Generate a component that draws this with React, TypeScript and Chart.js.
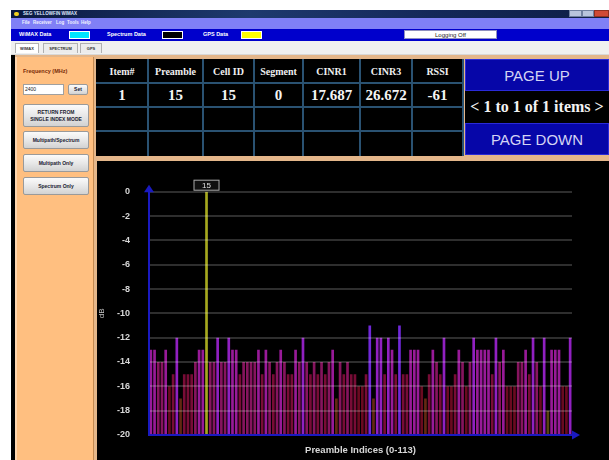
import React, { useEffect, useRef } from 'react';
import { Chart, registerables } from 'chart.js';

Chart.register(...registerables);

// ---------- data ----------
const PREAMBLE_INDICES: string[] = Array.from({ length: 114 }, (_, i) => String(i));
const LEVEL_DB: number[] = [
  -13, -13, -14, -14, -13, -16, -15, -12, -17, -15,
  -15, -15, -14, -13, -13, 0, -14, -14, -12, -14,
  -14, -12, -13, -13, -15, -14, -14, -14, -14, -13,
  -15, -13, -14, -15, -14, -13, -14, -15, -15, -13,
  -14, -12, -14, -15, -14, -15, -14, -15, -14, -13,
  -17, -14, -15, -14, -15, -15, -16, -16, -15, -11,
  -17, -12, -12, -15, -12, -13, -15, -11, -15, -15,
  -13, -13, -13, -16, -17, -15, -13, -14, -15, -12,
  -16, -16, -15, -13, -14, -16, -14, -12, -13, -13,
  -13, -13, -15, -12, -14, -13, -16, -16, -16, -14,
  -14, -13, -15, -12, -14, -16, -12, -18, -13, -13,
  -13, -16, -16, -12,
];
const SELECTED_INDEX = 15;
const Y_MIN = -20;
const Y_MAX = 0;
const Y_STEP = 2;
const X_TITLE = 'Preamble Indices (0-113)';
const Y_TITLE = 'dB';

const TABLE_HEADERS = ['Item#', 'Preamble', 'Cell ID', 'Segment', 'CINR1', 'CINR3', 'RSSI'];
const TABLE_ROW = ['1', '15', '15', '0', '17.687', '26.672', '-61'];
const MENU_ITEMS = ['File', 'Receiver', 'Log', 'Tools', 'Help'];
const TABS = ['WIMAX', 'SPECTRUM', 'GPS'];
const PAGER_TEXT = '< 1 to 1 of 1 items >';

// ---------- styles ----------
const SANS = '"Liberation Sans", Arial, sans-serif';
const SERIF = '"Liberation Serif", "Times New Roman", serif';
const AXIS_BLUE = '#1a1ac0';
const SELECTED_COLOR = '#a6a81e';

const LEVEL_COLORS: Record<string, string> = {
  '-11': '#7028d8',
  '-12': '#9020c0',
  '-13': '#981a98',
  '-14': '#86145e',
  '-15': '#780c36',
  '-16': '#6a0a20',
  '-17': '#642812',
  '-18': '#584410',
};

const abs = (l: number, t: number, w: number, h: number, extra: React.CSSProperties = {}): React.CSSProperties => ({
  position: 'absolute', left: l, top: t, width: w, height: h, boxSizing: 'border-box', ...extra,
});

const Btn = ({ l, t, w, h, lines, size = 5 }: { l: number; t: number; w: number; h: number; lines: string[]; size?: number }) => (
  <div
    style={abs(l, t, w, h, {
      background: 'linear-gradient(#fbfbfb, #e6e6e6 55%, #d2d2d2)',
      border: '1px solid #9a9a9a',
      borderRadius: 2,
      display: 'flex',
      flexDirection: 'column',
      alignItems: 'center',
      justifyContent: 'center',
      font: `bold ${size}px ${SANS}`,
      color: '#202030',
      lineHeight: `${size + 1.5}px`,
      whiteSpace: 'nowrap',
    })}
  >
    {lines.map((s, i) => (
      <div key={i}>{s}</div>
    ))}
  </div>
);

const TextAt = ({ l, t, text, size, color, weight = 'bold', family = SANS }: any) => (
  <div style={{ position: 'absolute', left: l, top: t, font: `${weight} ${size}px ${family}`, color, whiteSpace: 'nowrap', lineHeight: 1 }}>{text}</div>
);

const chartDecor = {
  id: 'chartDecor',
  afterDraw(chart: any) {
    const { ctx, chartArea } = chart;
    const { left, right, top, bottom } = chartArea;
    ctx.save();
    ctx.fillStyle = AXIS_BLUE;
    // y arrow
    ctx.beginPath();
    ctx.moveTo(left - 5, top + 0.5);
    ctx.lineTo(left + 5, top + 0.5);
    ctx.lineTo(left, top - 7);
    ctx.closePath();
    ctx.fill();
    // x arrow
    ctx.beginPath();
    ctx.moveTo(right, bottom - 4.5);
    ctx.lineTo(right, bottom + 4.5);
    ctx.lineTo(right + 8, bottom);
    ctx.closePath();
    ctx.fill();
    // selected label box
    const meta = chart.getDatasetMeta(0);
    const el = meta.data[SELECTED_INDEX];
    if (el) {
      const text = PREAMBLE_INDICES[SELECTED_INDEX];
      const bx = el.x - 13;
      const by = el.y - 12;
      ctx.fillStyle = '#101010';
      ctx.fillRect(bx, by, 26, 11);
      ctx.strokeStyle = '#a8a8a8';
      ctx.lineWidth = 1;
      ctx.strokeRect(bx + 0.5, by + 0.5, 25, 10);
      ctx.fillStyle = '#e0e0e0';
      ctx.font = `8px ${SANS}`;
      ctx.textAlign = 'center';
      ctx.textBaseline = 'middle';
      ctx.fillText(text, el.x, by + 6);
    }
    ctx.restore();
  },
};

const SpectrumChart = () => {
  const ref = useRef<HTMLCanvasElement | null>(null);
  useEffect(() => {
    if (!ref.current) return;
    const chart = new Chart(ref.current, {
      type: 'bar',
      data: {
        labels: PREAMBLE_INDICES,
        datasets: [
          {
            data: LEVEL_DB,
            base: Y_MIN,
            backgroundColor: (c: any) =>
              c.dataIndex === SELECTED_INDEX ? SELECTED_COLOR : LEVEL_COLORS[String(c.raw)] || '#780c36',
            borderWidth: 0,
            barPercentage: 0.72,
            categoryPercentage: 1,
          } as any,
        ],
      },
      options: {
        animation: false,
        responsive: false,
        maintainAspectRatio: false,
        layout: { padding: { top: 30.7, right: 37, bottom: 0, left: 0 } },
        plugins: { legend: { display: false }, tooltip: { enabled: false } },
        scales: {
          x: {
            type: 'category',
            offset: true,
            grid: { display: false, drawTicks: false, z: 1 },
            border: { display: true, color: AXIS_BLUE, width: 2, z: 2 },
            ticks: { display: false },
            title: {
              display: true,
              text: X_TITLE,
              color: '#d8d8d8',
              font: { family: SANS, size: 9.5, weight: 'bold' },
              padding: { top: 0, bottom: 4 },
            },
            afterFit: (s: any) => {
              s.height = 25;
            },
          },
          y: {
            min: Y_MIN,
            max: Y_MAX,
            grid: { color: 'rgba(255,255,255,0.18)', lineWidth: 2, drawTicks: false, z: 1 },
            border: { display: true, color: AXIS_BLUE, width: 2, z: 2 },
            ticks: {
              stepSize: Y_STEP,
              color: '#d8d8d8',
              font: { family: SANS, size: 9, weight: 'bold' },
              padding: 19,
            },
            title: {
              display: true,
              text: Y_TITLE,
              color: '#c8c8c8',
              font: { family: SANS, size: 8 },
              padding: 0,
            },
            afterFit: (s: any) => {
              s.width = 52;
            },
          },
        },
      } as any,
      plugins: [chartDecor],
    });
    return () => chart.destroy();
  }, []);
  return <canvas ref={ref} width={512} height={299} style={{ display: 'block', width: 512, height: 299 }} />;
};

const COL_EDGES = [0, 52, 107, 158, 207, 264, 316, 367];
const ROW_EDGES = [0, 24, 48, 72, 97];
const GRID_BLUE = '#2a5272';

const DataTable = () => (
  <div style={abs(96, 59, 367, 97, { background: '#000' })}>
    {COL_EDGES.slice(1).map((x, i) => (
      <div key={'c' + i} style={abs(x - 1, 0, 2, 97, { background: GRID_BLUE })} />
    ))}
    {ROW_EDGES.slice(1, 4).map((y, i) => (
      <div key={'r' + i} style={abs(0, y - 1, 367, 2, { background: GRID_BLUE })} />
    ))}
    {TABLE_HEADERS.map((h, i) => (
      <div
        key={'h' + i}
        style={abs(COL_EDGES[i], 0, COL_EDGES[i + 1] - COL_EDGES[i], 24, {
          display: 'flex', alignItems: 'center', justifyContent: 'center',
          font: `bold 10px ${SERIF}`, color: '#f0f0f0', whiteSpace: 'nowrap',
        })}
      >
        {h}
      </div>
    ))}
    {TABLE_ROW.map((v, i) => (
      <div
        key={'v' + i}
        style={abs(COL_EDGES[i], 24, COL_EDGES[i + 1] - COL_EDGES[i], 24, {
          display: 'flex', alignItems: 'center', justifyContent: 'center',
          font: `bold 15px ${SERIF}`, color: '#f4f4f4', whiteSpace: 'nowrap',
        })}
      >
        {v}
      </div>
    ))}
  </div>
);

const PageBtn = ({ t, text }: { t: number; text: string }) => (
  <div
    style={abs(465, t, 144, 32, {
      background: '#0606a8',
      border: '1px solid #2a2ad8',
      display: 'flex', alignItems: 'center', justifyContent: 'center',
      font: `15px ${SANS}`, color: '#d4d4f4', whiteSpace: 'nowrap',
    })}
  >
    {text}
  </div>
);

export default function App() {
  const menuX = [22, 33, 56, 67, 81];
  const tabX = [[15, 24], [43, 35], [80, 22]];
  return (
    <div style={{ position: 'fixed', left: 0, top: 0, width: 609, height: 460, background: '#fff', overflow: 'hidden' }}>
      {/* title bar */}
      <div style={abs(11, 10, 598, 7.5, { background: 'linear-gradient(to right, #0a1840, #1e3a6e 40%, #14285a 70%, #0e1e48)' })} />
      <div style={abs(14, 11.5, 4.5, 4.5, { background: '#f0d020', borderRadius: '50%' })} />
      <TextAt l={23} t={11.5} text="SEG YELLOWFIN WIMAX" size={4.5} color="#dfe6ff" />
      <div style={abs(569, 10, 13, 7, { background: '#b8c4dc', border: '1px solid #7080a0' })} />
      <div style={abs(582, 10, 12, 7, { background: '#b8c4dc', border: '1px solid #7080a0' })} />
      <div style={abs(594, 10, 15, 7, { background: '#d04a36', border: '1px solid #903020' })} />
      {/* menu */}
      <div style={abs(11, 17.5, 598, 11, { background: '#8080f6' })} />
      {MENU_ITEMS.map((m, i) => (
        <TextAt key={m} l={menuX[i]} t={20.5} text={m} size={4.5} color="#f2f2ff" />
      ))}
      {/* toolbar */}
      <div style={abs(11, 28.5, 598, 12, { background: '#0000cc' })} />
      <TextAt l={19} t={32} text="WiMAX Data" size={5.5} color="#ffffff" />
      <div style={abs(69, 30.5, 21, 8, { background: '#00e4ff', border: '1px solid #ffffff' })} />
      <TextAt l={107} t={32} text="Spectrum Data" size={5.5} color="#ffffff" />
      <div style={abs(162, 30.5, 21, 8, { background: '#000', border: '1px solid #ffffff' })} />
      <TextAt l={203} t={32} text="GPS Data" size={5.5} color="#ffffff" />
      <div style={abs(241, 30.5, 21, 8, { background: '#ffff00', border: '1px solid #ffffff' })} />
      <div
        style={abs(404, 30, 93, 9, {
          background: '#fff', border: '1px solid #9090c0',
          display: 'flex', alignItems: 'center', justifyContent: 'center',
          font: `6px ${SANS}`, color: '#202020',
        })}
      >
        Logging Off
      </div>
      {/* tabs */}
      <div style={abs(11, 40.5, 598, 14.5, { background: '#f0f0f0', borderBottom: '1px solid #d8d8d8' })} />
      {TABS.map((t, i) => (
        <div
          key={t}
          style={abs(tabX[i][0], 42.5, tabX[i][1], 10, {
            background: i === 0 ? '#ffffff' : '#ececec',
            border: '1px solid #b0b0b0',
            borderBottom: 'none',
            display: 'flex', alignItems: 'center', justifyContent: 'center',
            font: `bold 4px ${SANS}`, color: '#303030',
          })}
        >
          {t}
        </div>
      ))}
      {/* content frame */}
      <div style={abs(11, 55, 598, 405, { background: '#e4b68a' })} />
      <div style={abs(11, 55, 4, 405, { background: '#000' })} />
      {/* left panel */}
      <div style={abs(15, 57, 79, 403, { background: '#ffbf80', borderLeft: '2px solid #ffd6ae', borderRight: '1px solid #c48a52' })} />
      <TextAt l={23} t={69} text="Frequency (MHz)" size={5.5} color="#7a2a08" />
      <div style={abs(23, 84, 41, 11, { background: '#fff', border: '1px solid #a0a0a0' })} />
      <TextAt l={25} t={87} text="2400" size={5} color="#202020" weight="normal" />
      <Btn l={68} t={84} w={20} h={11} lines={['Set']} />
      <Btn l={23} t={104} w={66} h={23} lines={['RETURN FROM', 'SINGLE INDEX MODE']} />
      <Btn l={23} t={131} w={66} h={18} lines={['Multipath/Spectrum']} />
      <Btn l={23} t={154} w={66} h={18} lines={['Multipath Only']} />
      <Btn l={23} t={177} w={66} h={18} lines={['Spectrum Only']} />
      {/* table */}
      <DataTable />
      {/* pager */}
      <PageBtn t={59} text="PAGE UP" />
      <div
        style={abs(465, 91, 144, 32, {
          background: '#000',
          display: 'flex', alignItems: 'center', justifyContent: 'center',
          font: `bold 16px ${SERIF}`, color: '#f2f2f2', whiteSpace: 'nowrap',
        })}
      >
        {PAGER_TEXT}
      </div>
      <PageBtn t={123} text="PAGE DOWN" />
      {/* chart */}
      <div style={abs(97, 161, 512, 299, { background: '#000' })}>
        <SpectrumChart />
      </div>
    </div>
  );
}
